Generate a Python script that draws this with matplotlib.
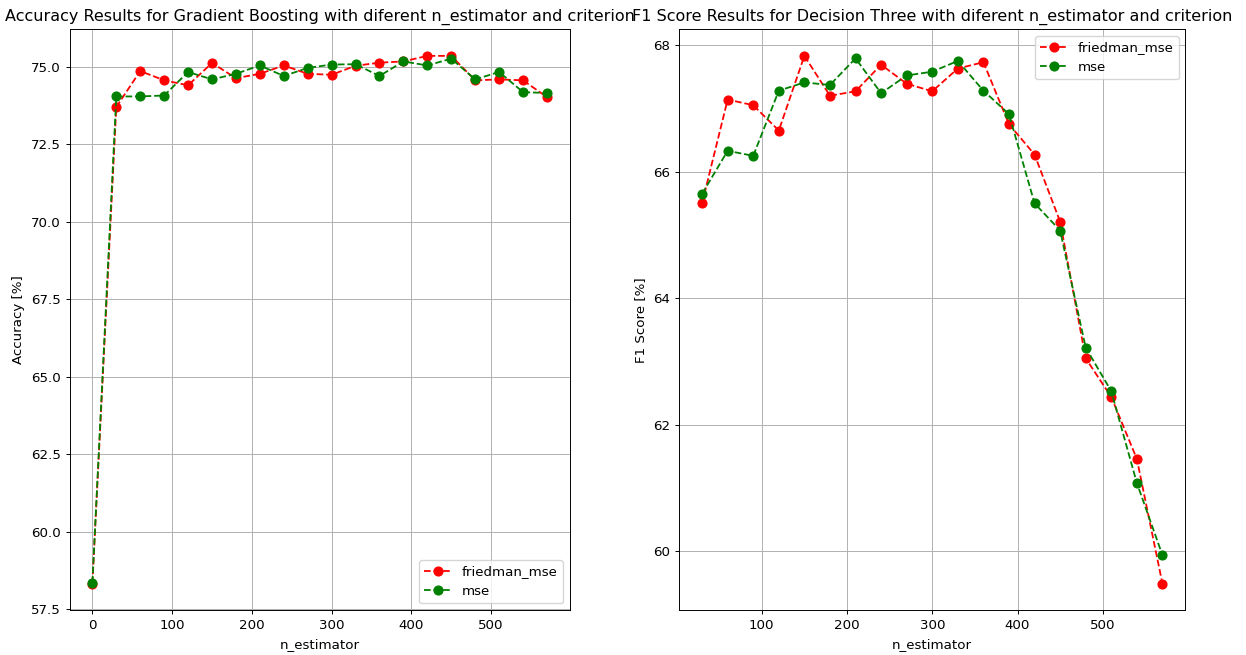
import matplotlib
matplotlib.use('Agg')
import matplotlib.pyplot as plt

# n_estimator values
n_left = [0, 30, 60, 90, 120, 150, 180, 210, 240, 270, 300, 330, 360, 390, 420, 450, 480, 510, 540, 570]
n_right = [30, 60, 90, 120, 150, 180, 210, 240, 270, 300, 330, 360, 390, 420, 450, 480, 510, 540, 570]

# Accuracy (gradient boosting)
acc_friedman = [58.32, 73.71, 74.87, 74.57, 74.41, 75.13, 74.64, 74.78, 75.05, 74.78,
                74.75, 75.04, 75.14, 75.18, 75.36, 75.36, 74.57, 74.60, 74.57, 74.03]
acc_mse = [58.35, 74.05, 74.05, 74.08, 74.84, 74.60, 74.78, 75.05, 74.71, 74.97,
           75.08, 75.09, 74.71, 75.18, 75.05, 75.27, 74.60, 74.84, 74.19, 74.16]

# F1 score
f1_friedman = [65.50, 67.14, 67.05, 66.65, 67.83, 67.20, 67.27, 67.69, 67.39, 67.27,
               67.63, 67.73, 66.75, 66.27, 65.21, 63.05, 62.44, 61.46, 59.49]
f1_mse = [65.65, 66.33, 66.25, 67.28, 67.41, 67.37, 67.79, 67.24, 67.52, 67.58,
          67.75, 67.28, 66.91, 65.50, 65.07, 63.22, 62.53, 61.08, 59.94]

s = 0.864  # scale for line widths
plt.rcParams['font.size'] = 9.6
plt.rcParams['axes.linewidth'] = 0.8 * s
plt.rcParams['grid.linewidth'] = 0.8 * s
plt.rcParams['xtick.major.size'] = 3.5 * s
plt.rcParams['ytick.major.size'] = 3.5 * s
plt.rcParams['xtick.major.width'] = 0.8 * s
plt.rcParams['ytick.major.width'] = 0.8 * s

fig = plt.figure(figsize=(12.46, 6.55), dpi=100)
ax1 = fig.add_axes([0.0559, 0.0687, 0.4013, 0.8863])
ax2 = fig.add_axes([0.545, 0.0687, 0.4064, 0.8863])

ax1.plot(n_left, acc_friedman, 'r--o', label='friedman_mse', lw=1.5 * s, ms=6.3)
ax1.plot(n_left, acc_mse, 'g--o', label='mse', lw=1.5 * s, ms=6.3)
ax1.set_xlabel('n_estimator')
ax1.set_ylabel('Accuracy [%]')
ax1.set_title('Accuracy Results for Gradient Boosting with diferent n_estimator and criterion', fontsize=11.5)
ax1.legend(loc='lower right')
ax1.grid(True)

ax2.plot(n_right, f1_friedman, 'r--o', label='friedman_mse', lw=1.5 * s, ms=6.3)
ax2.plot(n_right, f1_mse, 'g--o', label='mse', lw=1.5 * s, ms=6.3)
ax2.set_xlabel('n_estimator')
ax2.set_ylabel('F1 Score [%]')
ax2.set_title('F1 Score Results for Decision Three with diferent n_estimator and criterion', fontsize=11.5)
ax2.legend(loc='upper right')
ax2.grid(True)

plt.savefig('out.png', dpi=100)
